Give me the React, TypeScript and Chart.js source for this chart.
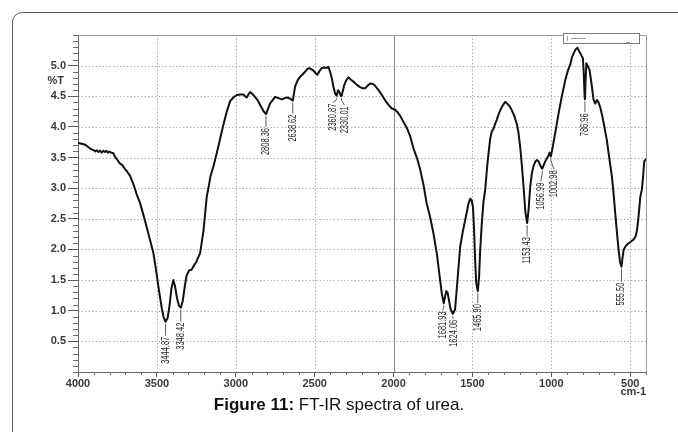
import { useEffect, useRef } from 'react';
import { Chart, registerables } from 'chart.js';

Chart.register(...registerables);

// Wavenumber (cm-1) of each recorded sample, high to low
const wavenumbers: number[] = [
  4000, 3985, 3970, 3956, 3940, 3924, 3910, 3900, 3890, 3880,
  3870, 3860, 3850, 3840, 3830, 3820, 3810, 3800, 3790, 3776,
  3765, 3750, 3734, 3720, 3705, 3691, 3670, 3651, 3628, 3607,
  3585, 3564, 3540, 3522, 3505, 3491, 3480, 3469, 3458, 3444.87,
  3432, 3420, 3408, 3396, 3385, 3372, 3360, 3348.42, 3336, 3322,
  3311, 3295, 3280, 3269, 3250, 3226, 3205, 3184, 3170, 3160,
  3142, 3120, 3100, 3080, 3057, 3036, 3015, 2994, 2970, 2952,
  2940, 2930, 2920, 2909, 2888, 2865, 2846, 2825, 2808.36, 2795,
  2783, 2765, 2751, 2730, 2708, 2690, 2673, 2655, 2638.62, 2624,
  2608, 2592, 2575, 2561, 2545, 2533, 2520, 2508, 2495, 2483,
  2470, 2455, 2440, 2425, 2413, 2402, 2390, 2381, 2370, 2360.87,
  2352, 2345, 2336, 2330.01, 2322, 2313, 2300, 2286, 2270, 2254,
  2235, 2212, 2195, 2180, 2165, 2148, 2130, 2117, 2095, 2074,
  2050, 2032, 2011, 1990, 1975, 1958, 1935, 1915, 1895, 1874,
  1850, 1831, 1810, 1790, 1770, 1747, 1725, 1705, 1694, 1681.93,
  1672, 1666, 1658, 1648, 1638, 1624.06, 1610, 1598, 1588, 1578,
  1562, 1546, 1535, 1525, 1514, 1505, 1497, 1490, 1483, 1476,
  1465.9, 1458, 1451, 1440, 1430, 1419, 1405, 1388, 1378, 1367,
  1356, 1345, 1335, 1324, 1310, 1300, 1292, 1280, 1265, 1250,
  1235, 1218, 1208, 1197, 1186, 1176, 1165, 1153.43, 1145, 1134,
  1123, 1113, 1100, 1092, 1082, 1071, 1062, 1056.99, 1048, 1032,
  1020, 1011, 1002.98, 995, 986, 970, 954, 935, 912, 895,
  880, 869, 855, 845, 834, 825, 812, 800, 795, 790,
  786.96, 783, 778, 770, 758, 745, 733, 722, 711, 701,
  690, 679, 665, 648, 632, 616, 605, 595, 585, 574,
  565, 555.5, 548, 542, 530, 520, 510, 495, 479, 465,
  457, 448, 436, 426, 418, 411, 405, 400,
];

// Transmittance (%T) at each wavenumber above
const transmittance: number[] = [
  3.74, 3.73, 3.72, 3.71, 3.68, 3.65, 3.63, 3.62, 3.60, 3.62,
  3.59, 3.61, 3.58, 3.61, 3.59, 3.61, 3.58, 3.60, 3.58, 3.57,
  3.51, 3.46, 3.40, 3.38, 3.32, 3.28, 3.20, 3.08, 2.90, 2.76,
  2.56, 2.36, 2.12, 1.94, 1.66, 1.40, 1.22, 1.04, 0.90, 0.82,
  0.88, 1.08, 1.36, 1.50, 1.40, 1.20, 1.08, 1.05, 1.16, 1.42,
  1.58, 1.66, 1.67, 1.72, 1.80, 1.94, 2.30, 2.86, 3.05, 3.20,
  3.35, 3.58, 3.80, 4.02, 4.25, 4.42, 4.48, 4.52, 4.53, 4.53,
  4.50, 4.48, 4.53, 4.57, 4.52, 4.45, 4.36, 4.26, 4.21, 4.30,
  4.38, 4.44, 4.49, 4.47, 4.45, 4.47, 4.48, 4.46, 4.43, 4.66,
  4.76, 4.82, 4.86, 4.90, 4.95, 4.96, 4.94, 4.92, 4.88, 4.85,
  4.91, 4.96, 4.97, 4.96, 4.98, 4.90, 4.78, 4.65, 4.54, 4.51,
  4.60, 4.58, 4.52, 4.50, 4.58, 4.68, 4.76, 4.81, 4.77, 4.74,
  4.69, 4.65, 4.63, 4.63, 4.67, 4.71, 4.70, 4.67, 4.60, 4.52,
  4.42, 4.36, 4.30, 4.28, 4.24, 4.18, 4.07, 3.98, 3.85, 3.65,
  3.48, 3.30, 3.05, 2.75, 2.55, 2.26, 1.92, 1.50, 1.28, 1.12,
  1.25, 1.32, 1.30, 1.16, 1.02, 0.95, 1.02, 1.40, 1.72, 2.04,
  2.28, 2.48, 2.62, 2.75, 2.83, 2.80, 2.70, 2.35, 1.83, 1.45,
  1.32, 1.55, 1.99, 2.45, 2.78, 2.98, 3.40, 3.80, 3.92, 3.97,
  4.05, 4.12, 4.20, 4.27, 4.34, 4.38, 4.41, 4.38, 4.34, 4.27,
  4.18, 4.04, 3.90, 3.66, 3.35, 3.02, 2.62, 2.43, 2.62, 3.02,
  3.25, 3.36, 3.44, 3.46, 3.44, 3.38, 3.33, 3.32, 3.38, 3.47,
  3.52, 3.58, 3.52, 3.62, 3.75, 3.98, 4.22, 4.48, 4.76, 4.92,
  5.02, 5.14, 5.22, 5.27, 5.29, 5.24, 5.18, 5.12, 4.90, 4.55,
  4.45, 4.75, 5.04, 5.00, 4.93, 4.70, 4.45, 4.38, 4.44, 4.40,
  4.32, 4.20, 4.02, 3.78, 3.48, 3.19, 2.90, 2.59, 2.30, 2.00,
  1.80, 1.72, 1.88, 1.99, 2.05, 2.08, 2.10, 2.13, 2.16, 2.22,
  2.32, 2.52, 2.86, 2.98, 3.20, 3.44, 3.46, 3.48,
];

const xTickLabels = ['4000', '3500', '3000', '2500', '2000', '1500', '1000', '500'];
const yTickLabels = ['0.5', '1.0', '1.5', '2.0', '2.5', '3.0', '3.5', '4.0', '4.5', '5.0'];

// Annotated band positions (cm-1)
const peakWavenumbers: number[] = [
  3444.87, 3348.42, 2808.36, 2638.62, 2360.87, 2330.01, 1681.93,
  1624.06, 1465.9, 1153.43, 1056.99, 1002.98, 786.96, 555.5,
];

// Leader layout for each annotation: [horizontal shift, drop below the band] in px
const peakLabelOffsets: [number, number][] = [
  [0, 15], [0, 15], [0, 14], [0, 14], [-4, 8], [3, 10], [-1, 8],
  [1, 6], [0, 13], [0, 14], [-1.5, 14], [3, 14], [0, 14], [0, 16],
];

const FONT = '"Liberation Sans", Arial, sans-serif';

function transmittanceAt(w: number): number {
  for (let i = 0; i < wavenumbers.length - 1; i++) {
    const a = wavenumbers[i];
    const b = wavenumbers[i + 1];
    if (w <= a && w >= b) {
      const t = a === b ? 0 : (a - w) / (a - b);
      return transmittance[i] + t * (transmittance[i + 1] - transmittance[i]);
    }
  }
  return transmittance[transmittance.length - 1];
}

const spectrumDecor = {
  id: 'spectrumDecor',
  beforeDatasetsDraw(chart: any) {
    const { ctx, chartArea: a } = chart;
    const xs = chart.scales.x;
    const ys = chart.scales.y;
    ctx.save();

    // dotted grid
    ctx.lineWidth = 1;
    ctx.strokeStyle = '#b2b2b2';
    ctx.setLineDash([1.5, 2]);
    ctx.beginPath();
    for (const t of yTickLabels) {
      const py = Math.round(ys.getPixelForValue(Number(t))) + 0.5;
      ctx.moveTo(a.left, py);
      ctx.lineTo(a.right, py);
    }
    for (const t of xTickLabels) {
      if (t === '2000') continue;
      const px = Math.round(xs.getPixelForValue(Number(t))) + 0.5;
      ctx.moveTo(px, a.top);
      ctx.lineTo(px, a.bottom);
    }
    ctx.stroke();
    ctx.setLineDash([]);

    // solid line at 2000 cm-1
    const p2000 = Math.round(xs.getPixelForValue(2000)) + 0.5;
    ctx.strokeStyle = '#8a8a8a';
    ctx.beginPath();
    ctx.moveTo(p2000, a.top);
    ctx.lineTo(p2000, a.bottom);
    ctx.stroke();

    // plot frame
    const L = Math.round(a.left) + 0.5;
    const R = Math.round(a.right) + 0.5;
    const T = Math.round(a.top) + 0.5;
    const B = Math.round(a.bottom) + 0.5;
    ctx.strokeStyle = '#9a9a9a';
    ctx.beginPath();
    ctx.moveTo(L, T);
    ctx.lineTo(R, T);
    ctx.lineTo(R, B);
    ctx.stroke();
    ctx.strokeStyle = '#6a6a6a';
    ctx.beginPath();
    ctx.moveTo(L, T);
    ctx.lineTo(L, B);
    ctx.lineTo(R, B);
    ctx.stroke();

    // minor ticks
    ctx.strokeStyle = '#6a6a6a';
    ctx.beginPath();
    for (let k = 0; k <= 55; k++) {
      if (k % 5 === 0 && k > 0 && k < 55) continue;
      const py = Math.round(ys.getPixelForValue(k / 10)) + 0.5;
      ctx.moveTo(a.left - 5, py);
      ctx.lineTo(a.left, py);
    }
    for (let w = 400; w <= 4000; w += 100) {
      if (w % 500 === 0) continue;
      const px = Math.round(xs.getPixelForValue(w)) + 0.5;
      ctx.moveTo(px, a.bottom);
      ctx.lineTo(px, a.bottom + 3);
    }
    ctx.stroke();
    ctx.restore();
  },
  afterDatasetsDraw(chart: any) {
    const { ctx, chartArea: a } = chart;
    const xs = chart.scales.x;
    const ys = chart.scales.y;
    ctx.save();

    // band annotations
    ctx.font = `11px ${FONT}`;
    ctx.fillStyle = '#222';
    ctx.strokeStyle = '#333';
    ctx.lineWidth = 0.8;
    peakWavenumbers.forEach((w, i) => {
      const [dx, gap] = peakLabelOffsets[i];
      const px = xs.getPixelForValue(w);
      const py = ys.getPixelForValue(transmittanceAt(w));
      const tx = px + dx;
      const ty = py + gap;
      ctx.beginPath();
      ctx.moveTo(px, py + 2);
      if (dx !== 0) ctx.lineTo(px, py + 4);
      ctx.lineTo(tx, ty - 1);
      ctx.stroke();
      ctx.save();
      ctx.translate(tx, ty);
      ctx.rotate(-Math.PI / 2);
      ctx.scale(0.68, 1);
      ctx.textAlign = 'right';
      ctx.textBaseline = 'middle';
      ctx.fillText(w.toFixed(2), 0, 0);
      ctx.restore();
    });

    // axis unit labels
    ctx.font = `bold 11px ${FONT}`;
    ctx.fillStyle = '#3a3a3a';
    ctx.textBaseline = 'middle';
    ctx.textAlign = 'right';
    ctx.fillText('%T', a.left - 14, ys.getPixelForValue(4.75));
    ctx.textAlign = 'center';
    ctx.fillText('cm-1', xs.getPixelForValue(500) + 3, a.bottom + 20);

    // small header box at the top right
    ctx.fillStyle = '#fff';
    ctx.fillRect(a.right - 83, a.top - 2, 76, 10);
    ctx.strokeStyle = '#7a7a7a';
    ctx.lineWidth = 1;
    ctx.strokeRect(Math.round(a.right - 83) + 0.5, Math.round(a.top - 2) + 0.5, 76, 10);
    ctx.strokeStyle = '#999';
    ctx.beginPath();
    ctx.moveTo(a.right - 78.5, a.top + 1);
    ctx.lineTo(a.right - 78.5, a.top + 6);
    ctx.moveTo(a.right - 75, a.top + 3.5);
    ctx.lineTo(a.right - 60, a.top + 3.5);
    ctx.moveTo(a.right - 20, a.top + 7.5);
    ctx.lineTo(a.right - 16, a.top + 7.5);
    ctx.stroke();
    ctx.restore();
  },
};

export default function App() {
  const canvasRef = useRef<HTMLCanvasElement>(null);

  useEffect(() => {
    const canvas = canvasRef.current;
    if (!canvas) return;
    const points = wavenumbers.map((w, i) => ({ x: w, y: transmittance[i] }));
    const chart = new Chart(canvas, {
      type: 'line',
      data: {
        datasets: [
          {
            data: points,
            borderColor: '#111',
            borderWidth: 2,
            pointRadius: 0,
            tension: 0,
            borderJoinStyle: 'round',
            fill: false,
          },
        ],
      },
      options: {
        animation: false,
        responsive: false,
        devicePixelRatio: 1,
        layout: { padding: { left: 0, top: 35, right: 32, bottom: 0 } },
        plugins: { legend: { display: false }, tooltip: { enabled: false } },
        scales: {
          x: {
            type: 'linear',
            reverse: true,
            min: 400,
            max: 4000,
            afterFit: (s: any) => {
              s.height = 60;
            },
            afterBuildTicks: (s: any) => {
              s.ticks = xTickLabels.map((t) => ({ value: Number(t) }));
            },
            border: { display: false },
            grid: {
              drawOnChartArea: false,
              drawTicks: true,
              tickLength: 5,
              tickColor: '#5a5a5a',
            },
            ticks: {
              autoSkip: false,
              maxRotation: 0,
              padding: 0,
              color: '#3a3a3a',
              font: { family: FONT, size: 11, weight: 'bold' },
              callback: (v: any) => String(v),
            },
          },
          y: {
            type: 'linear',
            min: 0,
            max: 5.5,
            afterFit: (s: any) => {
              s.width = 78;
            },
            afterBuildTicks: (s: any) => {
              s.ticks = yTickLabels.map((t) => ({ value: Number(t) }));
            },
            border: { display: false },
            grid: {
              drawOnChartArea: false,
              drawTicks: true,
              tickLength: 10,
              tickColor: '#5a5a5a',
            },
            ticks: {
              padding: 2,
              color: '#3a3a3a',
              font: { family: FONT, size: 11, weight: 'bold' },
              callback: (v: any) => Number(v).toFixed(1),
            },
          },
        },
      },
      plugins: [spectrumDecor],
    } as any);
    return () => chart.destroy();
  }, []);

  return (
    <div
      style={{
        position: 'fixed',
        left: 0,
        top: 0,
        width: 678,
        height: 432,
        overflow: 'hidden',
        background: '#fff',
      }}
    >
      <div
        style={{
          position: 'absolute',
          left: 12,
          top: 12,
          width: 720,
          height: 520,
          border: '1.5px solid #5c5c5c',
          borderRadius: 10,
          boxSizing: 'border-box',
        }}
      />
      <canvas
        ref={canvasRef}
        width={678}
        height={432}
        style={{ position: 'absolute', left: 0, top: 0, width: 678, height: 432 }}
      />
      <div
        style={{
          position: 'absolute',
          left: 0,
          top: 395,
          width: 678,
          textAlign: 'center',
          fontFamily: FONT,
          fontSize: 17,
          color: '#111',
          lineHeight: '20px',
        }}
      >
        <b>Figure 11:</b> FT-IR spectra of urea.
      </div>
    </div>
  );
}
